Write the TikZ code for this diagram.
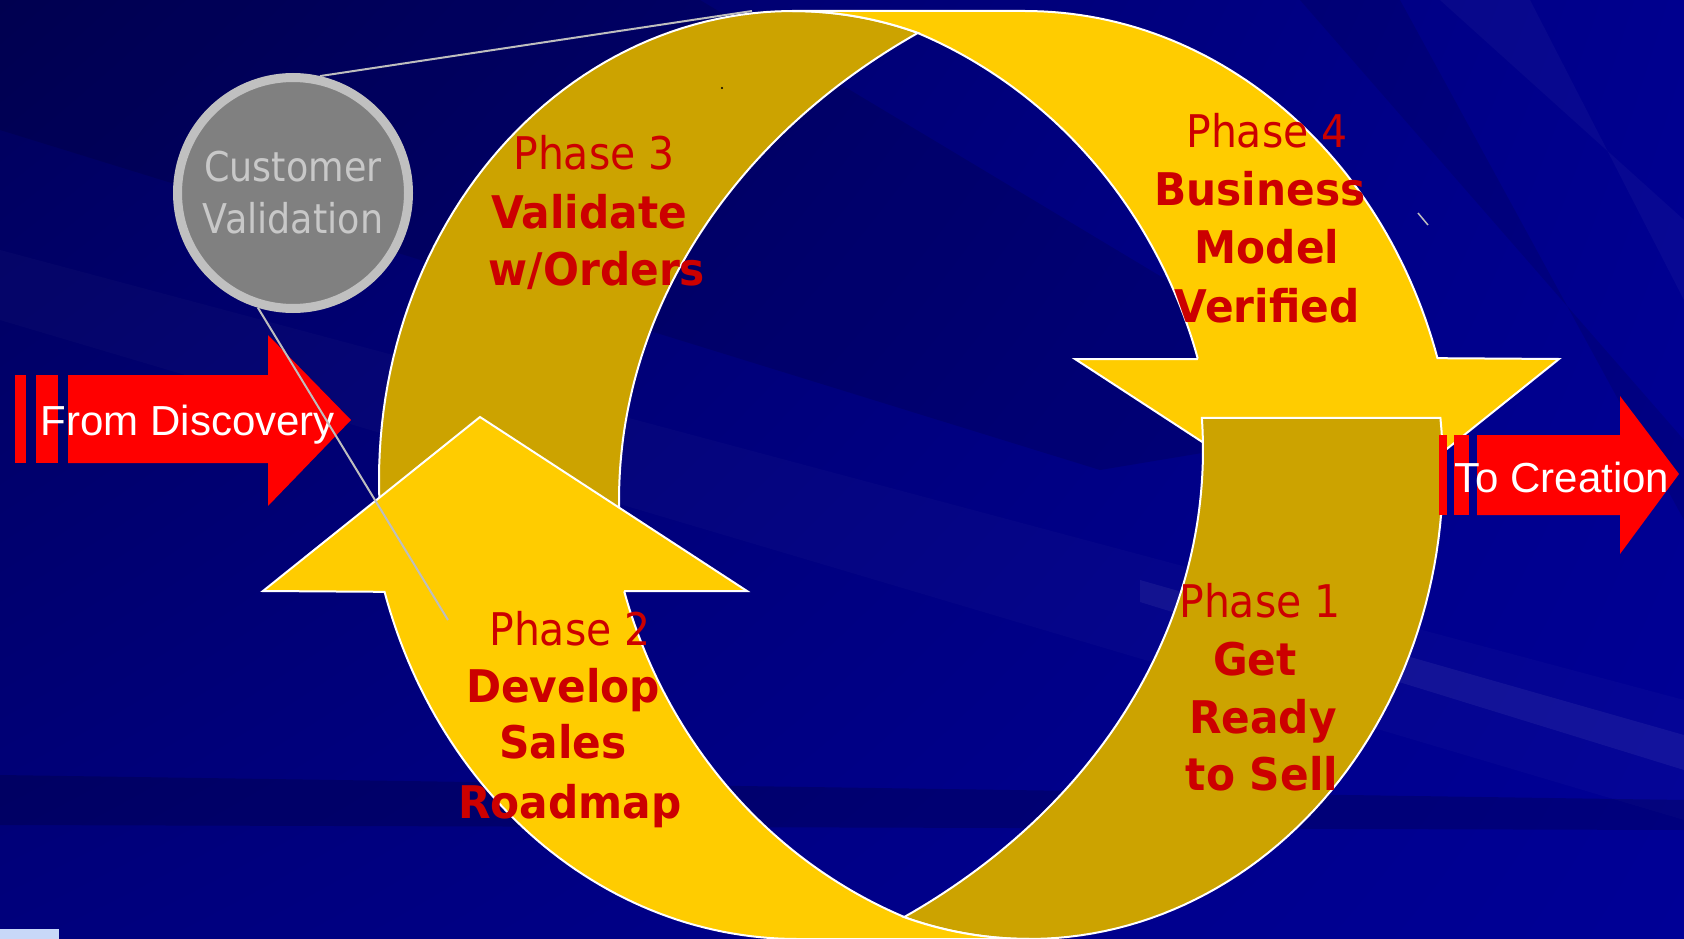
\documentclass[tikz,border=0pt]{standalone}
\usepackage{fontspec}
\usetikzlibrary{shadings}
\setmainfont{DejaVu Sans}
\newfontfamily\phasefont[FakeStretch=0.91]{DejaVu Sans}
\newfontfamily\stepfont[FakeStretch=0.94]{DejaVu Sans}
\newfontfamily\cvfont[FakeStretch=0.89]{DejaVu Sans}
\newfontfamily\arrowfont{Liberation Sans}

\definecolor{bgA}{HTML}{00005C}
\definecolor{bgB}{HTML}{00008E}
\definecolor{bgC}{HTML}{00007C}
\definecolor{bgD}{HTML}{000096}
\definecolor{ringyellow}{HTML}{FFCC00}
\definecolor{ringgold}{HTML}{CCA300}
\definecolor{phasered}{HTML}{CC0000}
\definecolor{arrowred}{HTML}{FF0000}
\definecolor{cvgray}{HTML}{808080}
\definecolor{cvrim}{HTML}{C0C0C0}
\definecolor{cvtext}{HTML}{C8C8C8}
\definecolor{calloutgray}{HTML}{BEBEBE}
\definecolor{thumbblue}{HTML}{C8D8F8}

% Back face of one curved arrow: band between two elliptical arcs
\def\ringback{%
  plot[domain=173.63:287.6, samples=70] ({793+414*cos(\x)},{480+469*sin(\x)})
  -- plot[domain=235.47:176.76, samples=70] ({1309+690*cos(\x)},{500+567*sin(\x)})
  -- cycle}
% Front face of the same arrow, ending in the arrow head
\def\ringfront{%
  (793,11) -- (1025,11)
  -- plot[domain=-90:-16.86, samples=60] ({1025+431*cos(\x)},{500+489*sin(\x)})
  -- (1559,359) -- (1342,533) -- (1075,359) -- (1197,359)
  -- plot[domain=-16.42:-68.17, samples=60] ({741+476*cos(\x)},{500+503*sin(\x)})
  -- plot[domain=-72.4:-90, samples=20] ({793+414*cos(\x)},{480+469*sin(\x)})
  -- cycle}

\begin{document}
\begin{tikzpicture}[x=1pt,y=-1pt,
  ringedge/.style={draw=white, line width=2pt, line join=miter},
  backface/.style={ringedge, fill=ringgold},
  frontface/.style={ringedge, fill=ringyellow},
  phaselabel/.style={anchor=base, inner sep=0pt, text=phasered,
    font=\phasefont\fontsize{45}{54}\selectfont},
  steplabel/.style={anchor=base, inner sep=0pt, text=phasered,
    font=\stepfont\bfseries\fontsize{45}{54}\selectfont},
  cvlabel/.style={anchor=base, inner sep=0pt, text=cvtext,
    font=\cvfont\fontsize{41}{50}\selectfont},
  arrowlabel/.style={anchor=base, inner sep=0pt, text=white,
    font=\arrowfont\fontsize{42}{50}\selectfont},
  redarrow/.style={fill=arrowred},
  callout/.style={draw=calloutgray, line width=2pt}]

\useasboundingbox (0,0) rectangle (1684,939);
\clip (0,0) rectangle (1684,939);

% background with soft streaks
\shade[upper left=bgA, upper right=bgB, lower left=bgC, lower right=bgD]
  (0,0) rectangle (1684,939);
\fill[black, fill opacity=.12] (0,0) -- (700,0) -- (1400,420) -- (1100,470) -- (0,130) -- cycle;
\fill[white, fill opacity=.02] (0,250) -- (0,320) -- (1684,820) -- (1684,700) -- cycle;
\fill[white, fill opacity=.06] (1140,580) -- (1684,735) -- (1684,770) -- (1140,602) -- cycle;
\fill[black, fill opacity=.16] (0,775) -- (1684,800) -- (1684,830) -- (0,825) -- cycle;
\fill[white, fill opacity=.03] (1440,0) -- (1530,0) -- (1684,300) -- (1684,220) -- cycle;
\fill[black, fill opacity=.10] (1300,0) -- (1400,0) -- (1684,520) -- (1684,440) -- cycle;

% the two interlocking curved arrows
\path[backface] \ringback;
\path[frontface] \ringfront;
\begin{scope}[rotate around={180:(911,475)}]
  \path[backface] \ringback;
  \path[frontface] \ringfront;
\end{scope}

% incoming and outgoing arrows
\fill[redarrow] (15,375) rectangle (26,463);
\fill[redarrow] (36,375) rectangle (58,463);
\fill[redarrow] (68,375) -- (268,375) -- (268,335) -- (351,420) -- (268,506)
  -- (268,463) -- (68,463) -- cycle;
\node[arrowlabel] (fromdisc) at (188,435) {From Discovery};

\fill[redarrow] (1439,435) rectangle (1447,515);
\fill[redarrow] (1454,435) rectangle (1469,515);
\fill[redarrow] (1477,435) -- (1620,435) -- (1620,396) -- (1679,474) -- (1620,554)
  -- (1620,515) -- (1477,515) -- cycle;
\node[arrowlabel] (tocreate) at (1562,492) {To Creation};

% phase labels
\node[phaselabel] (p3) at (594,170) {Phase 3};
\node[steplabel] (p3a) at (589,228) {Validate};
\node[steplabel] (p3b) at (597,285) {w/Orders};

\node[phaselabel] (p4) at (1267,148) {Phase 4};
\node[steplabel] (p4a) at (1260,205) {Business};
\node[steplabel] (p4b) at (1267,263) {Model};
\node[steplabel] (p4c) at (1267,322) {Verified};

\node[phaselabel] (p2) at (570,645) {Phase 2};
\node[steplabel] (p2a) at (563,702) {Develop};
\node[steplabel] (p2b) at (563,758) {Sales};
\node[steplabel] (p2c) at (570,818) {Roadmap};

\node[phaselabel] (p1) at (1260,617) {Phase 1};
\node[steplabel] (p1a) at (1255,675) {Get};
\node[steplabel] (p1b) at (1263,733) {Ready};
\node[steplabel] (p1c) at (1262,790) {to Sell};

% customer validation badge and its callout lines
\node[circle, minimum size=231pt, inner sep=0pt, fill=cvgray, draw=cvrim,
  line width=9pt] (cv) at (293,193) {};
\node[cvlabel] (cv1) at (293,182) {Customer};
\node[cvlabel] (cv2) at (293,233) {Validation};

\coordinate (calloutTop) at (752,11);
\coordinate (calloutLow) at (448,620);
\draw[callout] (cv.77) -- (calloutTop);
\draw[callout] (cv.253) -- (calloutLow);

% small marks
\coordinate (tickA) at (1418,213);
\coordinate (tickB) at (1428,225);
\draw[callout, line width=1.5pt] (tickA) -- (tickB);
\fill[black] (722,88) circle (1.2);
\fill[thumbblue] (0,929) rectangle (59,939);

\end{tikzpicture}
\end{document}
